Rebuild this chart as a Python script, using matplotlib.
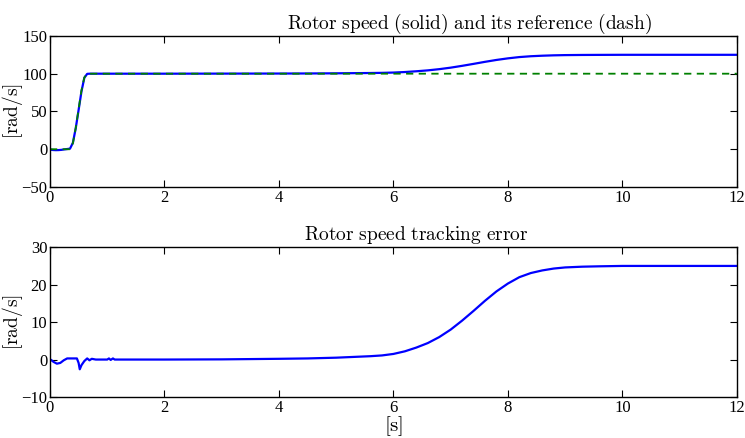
import matplotlib
matplotlib.use('Agg')
import matplotlib.pyplot as plt

plt.rcParams['mathtext.fontset'] = 'cm'
plt.rcParams['font.family'] = 'Liberation Serif'

# rotor speed and its reference [rad/s]
t_speed = [0.0, 0.05, 0.1, 0.15, 0.2, 0.25, 0.3, 0.35, 0.4, 0.45, 0.5, 0.55,
           0.6, 0.65, 0.7, 1.0, 2.0, 3.0, 4.0, 4.5, 5.0, 5.3, 5.6, 5.8, 6.0,
           6.2, 6.4, 6.6, 6.8, 7.0, 7.2, 7.4, 7.6, 7.8, 8.0, 8.2, 8.4, 8.6,
           8.8, 9.0, 9.3, 9.6, 10.0, 11.0, 12.0]
speed = [-0.5, -1.0, -1.2, -1.1, -0.8, -0.2, 0.3, 0.8, 8.5, 28.0, 52.0, 76.5,
         94.6, 99.8, 100.0, 100.0, 100.0, 100.1, 100.2, 100.3, 100.5, 100.7,
         100.9, 101.1, 101.5, 102.2, 103.2, 104.4, 106.0, 108.0, 110.4,
         113.0, 115.7, 118.2, 120.3, 122.0, 123.1, 123.8, 124.3, 124.6,
         124.8, 124.9, 125.0, 125.0, 125.0]
t_ref = [0.0, 0.35, 0.4, 0.45, 0.5, 0.55, 0.6, 0.65, 12.0]
ref = [0.0, 0.0, 8.0, 28.0, 53.0, 78.0, 95.0, 100.0, 100.0]

# tracking error [rad/s]
t_err = [0.0, 0.02, 0.06, 0.12, 0.18, 0.24, 0.3, 0.4, 0.47, 0.5, 0.52, 0.55,
         0.6, 0.65, 0.69, 0.73, 0.8, 1.0, 1.03, 1.06, 1.1, 1.13, 1.2, 2.0,
         3.0, 4.0, 4.5, 5.0, 5.3, 5.6, 5.8, 6.0, 6.2, 6.4, 6.6, 6.8, 7.0,
         7.2, 7.4, 7.6, 7.8, 8.0, 8.2, 8.4, 8.6, 8.8, 9.0, 9.3, 9.6, 10.0,
         11.0, 12.0]
err = [0.0, -0.1, -0.6, -1.1, -0.9, -0.2, 0.3, 0.3, 0.3, -0.9, -2.6, -1.5,
       -0.4, 0.3, -0.2, 0.2, 0.0, 0.0, 0.3, -0.1, 0.3, 0.0, 0.0, 0.0,
       0.05, 0.2, 0.3, 0.5, 0.7, 0.9, 1.1, 1.5, 2.2, 3.2, 4.4, 6.0, 8.0,
       10.4, 13.0, 15.7, 18.2, 20.3, 22.0, 23.1, 23.8, 24.3, 24.6, 24.8,
       24.9, 25.0, 25.0, 25.0]

fig = plt.figure(figsize=(7.45, 4.38), dpi=100)
ax1 = fig.add_axes([0.0671, 0.573, 0.922, 0.345])
ax2 = fig.add_axes([0.0671, 0.0936, 0.922, 0.342])

ax1.plot(t_speed, speed, color='#0000ff', lw=1.6)
ax1.plot(t_ref, ref, color='#008000', lw=1.3, ls='--', dashes=(4, 3))
ax1.set_xlim(0, 12)
ax1.set_ylim(-50, 150)
ax1.set_yticks([-50, 0, 50, 100, 150])
ax1.set_ylabel(r'$\mathrm{[rad/s]}$', fontsize=14)
ax1.set_title(r'$\mathrm{Rotor\ speed\ (solid)\ and\ its\ reference\ (dash)}$',
              fontsize=14, x=0.611, pad=5)

ax2.plot(t_err, err, color='#0000ff', lw=1.6)
ax2.set_xlim(0, 12)
ax2.set_ylim(-10, 30)
ax2.set_yticks([-10, 0, 10, 20, 30])
ax2.set_ylabel(r'$\mathrm{[rad/s]}$', fontsize=14)
ax2.set_xlabel(r'$\mathrm{[s]}$', fontsize=15, labelpad=-1)
ax2.set_title(r'$\mathrm{Rotor\ speed\ tracking\ error}$',
              fontsize=14, x=0.534, pad=5)

for ax in (ax1, ax2):
    ax.set_xticks([0, 2, 4, 6, 8, 10, 12])
    ax.tick_params(direction='in', top=True, right=True, labelsize=12,
                   length=5, width=0.8, pad=2)
    ax.yaxis.set_label_coords(-0.037, 0.5)
    for s in ax.spines.values():
        s.set_linewidth(1.0)

fig.savefig('out.png', dpi=100)
